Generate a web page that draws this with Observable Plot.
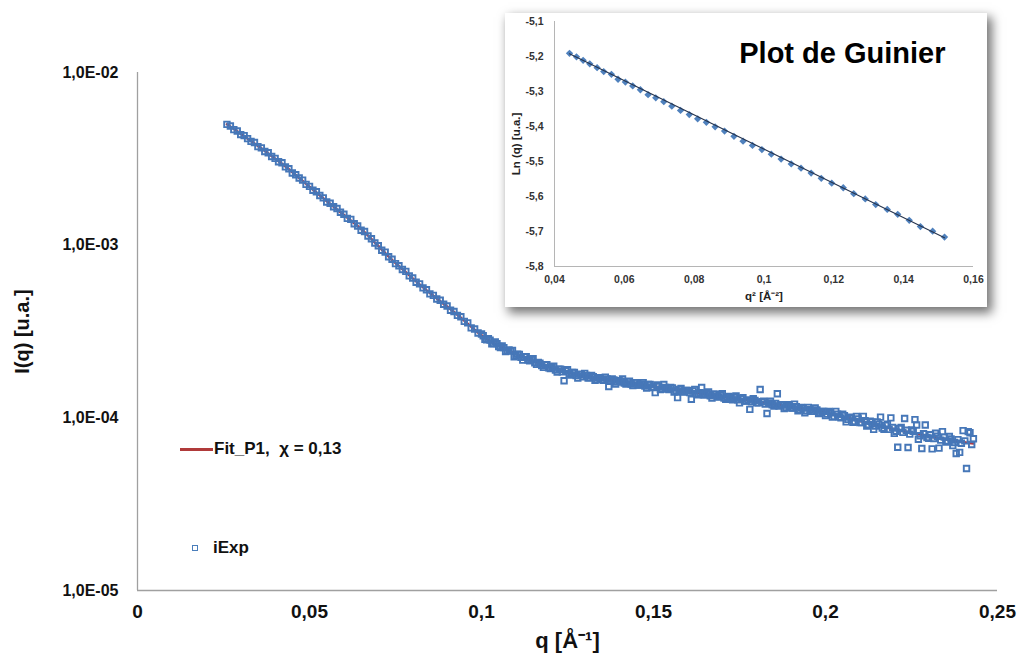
<!DOCTYPE html>
<html><head><meta charset="utf-8">
<script src="https://cdn.jsdelivr.net/npm/d3@7"></script>
<script src="https://cdn.jsdelivr.net/npm/@observablehq/plot@0.6"></script>
<style>
body{margin:0;background:#fff;}
#wrap{position:relative;width:1019px;height:656px;overflow:hidden;font-family:"Liberation Sans",Arial,sans-serif;}
#main{position:absolute;left:0;top:0;}
#inset{position:absolute;left:505px;top:13px;width:482px;height:294px;background:#fff;box-shadow:4px 5px 10px 1px rgba(0,0,0,0.55);}
.leg{position:absolute;font-weight:bold;font-size:17px;color:#111;white-space:pre;line-height:20px;}
.swline{position:absolute;height:3px;background:#b03a3a;}
.swsq{position:absolute;width:4px;height:4px;border:1.3px solid #4a7ebb;}
</style></head><body>
<div id="wrap">
  <div id="main"></div>
  <div id="inset"></div>
  <div class="swline" style="left:180px;top:448px;width:33px;"></div>
  <div class="leg" style="left:214px;top:439px;">Fit_P1,  χ = 0,13</div>
  <div class="swsq" style="left:192px;top:545px;"></div>
  <div class="leg" style="left:213px;top:538px;">iExp</div>
</div>
<script>
// ---- main chart: experimental points (regular grid) ----
const qExpA = [0.026,0.027,0.028,0.029,0.030,0.031,0.032,0.033,0.034,0.035,0.036,0.037,0.038,0.039,0.040,0.041,0.042,0.043,0.044,0.045,0.046,0.047,0.048,0.049,0.050,0.051,0.052,0.053,0.054,0.055,0.056,0.057,0.058,0.059,0.060,0.061,0.062,0.063,0.064,0.065,0.066,0.067,0.068,0.069,0.070,0.071,0.072,0.073,0.074,0.075,0.076,0.077,0.078,0.079,0.080,0.081,0.082,0.083,0.084,0.085,0.086,0.087,0.088,0.089,0.090,0.091,0.092,0.093,0.094,0.095,0.096,0.097,0.098,0.099,0.100,0.101,0.102,0.103,0.104,0.105,0.106,0.107,0.108,0.109,0.110,0.111,0.112,0.113,0.114,0.115,0.116,0.117,0.118,0.119,0.120,0.121,0.122,0.123,0.124,0.125,0.126,0.127,0.128,0.129,0.130,0.131,0.132,0.133,0.134,0.135,0.136,0.137,0.138,0.139,0.140,0.141,0.142,0.143,0.144,0.145,0.146,0.147,0.148,0.149,0.150,0.151,0.152,0.153,0.154,0.155,0.156,0.157,0.158,0.159,0.160,0.161,0.162,0.163,0.164,0.165,0.166,0.167,0.168,0.169,0.170,0.171,0.172,0.173,0.174,0.175,0.176,0.177,0.178,0.179,0.180,0.181,0.182,0.183,0.184,0.185,0.186,0.187,0.188,0.189,0.190,0.191,0.192,0.193,0.194,0.195,0.196,0.197,0.198,0.199,0.200,0.201,0.202,0.203,0.204,0.205,0.206,0.207,0.208,0.209,0.210,0.211,0.212,0.213,0.214,0.215,0.216,0.217,0.218,0.219,0.220,0.221,0.222,0.223,0.224,0.225,0.226,0.227,0.228,0.229,0.230,0.231,0.232,0.233,0.234,0.235,0.236,0.237,0.238,0.239,0.240,0.241,0.242,0.243];
const iExpA = [5.01e-3,4.90e-3,4.67e-3,4.58e-3,4.37e-3,4.31e-3,4.14e-3,3.99e-3,3.93e-3,3.72e-3,3.66e-3,3.49e-3,3.43e-3,3.26e-3,3.18e-3,3.04e-3,3.00e-3,2.84e-3,2.77e-3,2.62e-3,2.56e-3,2.45e-3,2.38e-3,2.25e-3,2.19e-3,2.08e-3,2.04e-3,1.94e-3,1.88e-3,1.78e-3,1.75e-3,1.67e-3,1.63e-3,1.55e-3,1.51e-3,1.43e-3,1.41e-3,1.33e-3,1.29e-3,1.22e-3,1.20e-3,1.13e-3,1.09e-3,1.03e-3,9.93e-4,9.35e-4,9.12e-4,8.57e-4,8.28e-4,7.82e-4,7.60e-4,7.23e-4,7.05e-4,6.64e-4,6.46e-4,6.10e-4,5.97e-4,5.66e-4,5.52e-4,5.22e-4,5.12e-4,4.88e-4,4.80e-4,4.55e-4,4.44e-4,4.20e-4,4.13e-4,3.92e-4,3.85e-4,3.62e-4,3.55e-4,3.32e-4,3.27e-4,3.10e-4,3.06e-4,2.85e-4,2.87e-4,2.68e-4,2.75e-4,2.59e-4,2.61e-4,2.42e-4,2.47e-4,2.46e-4,2.30e-4,2.33e-4,2.16e-4,2.26e-4,2.14e-4,2.20e-4,2.04e-4,2.07e-4,1.96e-4,2.03e-4,1.93e-4,1.99e-4,1.84e-4,1.91e-4,1.64e-4,1.90e-4,1.77e-4,1.83e-4,1.70e-4,1.78e-4,1.81e-4,1.70e-4,1.76e-4,1.65e-4,1.71e-4,1.66e-4,1.72e-4,1.52e-4,1.68e-4,1.57e-4,1.64e-4,1.68e-4,1.57e-4,1.63e-4,1.54e-4,1.60e-4,1.55e-4,1.60e-4,1.49e-4,1.56e-4,1.50e-4,1.55e-4,1.46e-4,1.56e-4,1.47e-4,1.50e-4,1.41e-4,1.31e-4,1.48e-4,1.41e-4,1.44e-4,1.28e-4,1.46e-4,1.36e-4,1.50e-4,1.36e-4,1.41e-4,1.30e-4,1.37e-4,1.32e-4,1.38e-4,1.28e-4,1.33e-4,1.27e-4,1.34e-4,1.22e-4,1.31e-4,1.25e-4,1.12e-4,1.29e-4,1.22e-4,1.46e-4,1.25e-4,1.06e-4,1.25e-4,1.17e-4,1.38e-4,1.19e-4,1.13e-4,1.19e-4,1.14e-4,1.20e-4,1.10e-4,1.15e-4,1.07e-4,1.15e-4,1.09e-4,1.14e-4,1.06e-4,1.09e-4,1.03e-4,1.09e-4,1.01e-4,1.09e-4,1.01e-4,1.05e-4,9.48e-5,1.01e-4,9.42e-5,1.02e-4,9.38e-5,1.02e-4,8.95e-5,9.55e-5,8.57e-5,9.46e-5,1.01e-4,8.59e-5,9.20e-5,1.00e-4,8.13e-5,6.76e-5,8.79e-5,9.91e-5,6.73e-5,8.51e-5,9.77e-5,7.52e-5,6.64e-5,9.08e-5,7.62e-5,6.61e-5,8.15e-5,6.68e-5,8.32e-5,7.24e-5,7.80e-5,6.90e-5,6.21e-5,6.31e-5,8.43e-5,5.09e-5,8.20e-5,7.57e-5];
// ---- main chart: experimental points (in-between grid, q > 0.1) ----
const qExpB = [0.1005,0.1015,0.1025,0.1035,0.1045,0.1055,0.1065,0.1075,0.1085,0.1095,0.1105,0.1115,0.1125,0.1135,0.1145,0.1155,0.1165,0.1175,0.1185,0.1195,0.1205,0.1215,0.1225,0.1235,0.1245,0.1255,0.1265,0.1275,0.1285,0.1295,0.1305,0.1315,0.1325,0.1335,0.1345,0.1355,0.1365,0.1375,0.1385,0.1395,0.1405,0.1415,0.1425,0.1435,0.1445,0.1455,0.1465,0.1475,0.1485,0.1495,0.1505,0.1515,0.1525,0.1535,0.1545,0.1555,0.1565,0.1575,0.1585,0.1595,0.1605,0.1615,0.1625,0.1635,0.1645,0.1655,0.1665,0.1675,0.1685,0.1695,0.1705,0.1715,0.1725,0.1735,0.1745,0.1755,0.1765,0.1775,0.1785,0.1795,0.1805,0.1815,0.1825,0.1835,0.1845,0.1855,0.1865,0.1875,0.1885,0.1895,0.1905,0.1915,0.1925,0.1935,0.1945,0.1955,0.1965,0.1975,0.1985,0.1995,0.2005,0.2015,0.2025,0.2035,0.2045,0.2055,0.2065,0.2075,0.2085,0.2095,0.2105,0.2115,0.2125,0.2135,0.2145,0.2155,0.2165,0.2175,0.2185,0.2195,0.2205,0.2215,0.2225,0.2235,0.2245,0.2255,0.2265,0.2275,0.2285,0.2295,0.2305,0.2315,0.2325,0.2335,0.2345,0.2355,0.2365,0.2375,0.2385,0.2395,0.2405,0.2415,0.2425];
const iExpB = [2.99e-4,2.83e-4,2.82e-4,2.69e-4,2.69e-4,2.55e-4,2.55e-4,2.44e-4,2.45e-4,2.26e-4,2.34e-4,2.24e-4,2.25e-4,2.17e-4,2.18e-4,2.08e-4,2.09e-4,2.01e-4,2.03e-4,1.95e-4,1.97e-4,1.89e-4,1.91e-4,1.85e-4,1.87e-4,1.81e-4,1.83e-4,1.76e-4,1.79e-4,1.73e-4,1.76e-4,1.71e-4,1.73e-4,1.67e-4,1.70e-4,1.65e-4,1.68e-4,1.63e-4,1.66e-4,1.61e-4,1.63e-4,1.59e-4,1.62e-4,1.57e-4,1.60e-4,1.55e-4,1.57e-4,1.53e-4,1.56e-4,1.51e-4,1.40e-4,1.52e-4,1.48e-4,1.50e-4,1.46e-4,1.49e-4,1.44e-4,1.46e-4,1.42e-4,1.44e-4,1.40e-4,1.43e-4,1.38e-4,1.40e-4,1.36e-4,1.38e-4,1.34e-4,1.37e-4,1.33e-4,1.35e-4,1.30e-4,1.32e-4,1.29e-4,1.31e-4,1.27e-4,1.29e-4,1.25e-4,1.27e-4,1.24e-4,1.26e-4,1.22e-4,1.24e-4,1.20e-4,1.22e-4,1.19e-4,1.21e-4,1.17e-4,1.19e-4,1.15e-4,1.17e-4,1.14e-4,1.16e-4,1.12e-4,1.14e-4,1.10e-4,1.12e-4,1.09e-4,1.11e-4,1.07e-4,1.09e-4,1.05e-4,1.07e-4,1.02e-4,1.05e-4,1.00e-4,1.03e-4,9.80e-5,1.00e-4,9.53e-5,9.86e-5,9.38e-5,9.62e-5,9.12e-5,9.44e-5,8.95e-5,9.20e-5,8.73e-5,9.04e-5,8.57e-5,8.79e-5,8.36e-5,8.67e-5,8.24e-5,8.47e-5,8.05e-5,8.36e-5,9.08e-5,7.87e-5,8.09e-5,7.69e-5,7.98e-5,7.59e-5,7.82e-5,7.43e-5,7.73e-5,7.35e-5,7.55e-5,7.19e-5,7.48e-5,7.13e-5,7.35e-5,8.32e-5,7.01e-5];
// ---- main chart: fit Fit_P1 ----
const qFit = [0.026,0.030,0.034,0.038,0.042,0.046,0.050,0.054,0.058,0.062,0.066,0.070,0.074,0.078,0.082,0.086,0.090,0.094,0.098,0.100,0.102,0.105,0.110,0.115,0.120,0.125,0.130,0.135,0.140,0.150,0.160,0.170,0.180,0.190,0.200,0.210,0.220,0.230,0.237,0.243];
const iFit = [5.01e-3,4.42e-3,3.88e-3,3.40e-3,2.96e-3,2.55e-3,2.18e-3,1.87e-3,1.61e-3,1.39e-3,1.19e-3,9.89e-4,8.22e-4,6.97e-4,5.93e-4,5.09e-4,4.41e-4,3.80e-4,3.24e-4,3.01e-4,2.83e-4,2.62e-4,2.34e-4,2.13e-4,1.96e-4,1.84e-4,1.75e-4,1.68e-4,1.63e-4,1.52e-4,1.42e-4,1.33e-4,1.24e-4,1.16e-4,1.07e-4,9.59e-5,8.59e-5,7.83e-5,7.40e-5,7.10e-5];
const xTicks = [0,0.05,0.1,0.15,0.2,0.25];
const xTickLabels = ["0","0,05","0,1","0,15","0,2","0,25"];
const yTicks = [1e-5,1e-4,1e-3,1e-2];
const yTickLabels = ["1,0E-05","1,0E-04","1,0E-03","1,0E-02"];
const xTitle = "q [Å⁻¹]";
const yTitle = "I(q) [u.a.]";
// ---- inset: Guinier plot ----
const q2Guinier = [0.0443,0.0463,0.0482,0.0501,0.0522,0.0541,0.0563,0.0582,0.0603,0.0624,0.0646,0.0668,0.0690,0.0713,0.0736,0.0761,0.0786,0.0810,0.0835,0.0860,0.0887,0.0914,0.0940,0.0967,0.0994,0.1021,0.1049,0.1078,0.1106,0.1135,0.1164,0.1194,0.1227,0.1257,0.1290,0.1320,0.1353,0.1383,0.1416,0.1448,0.1483,0.1517];
const lnGuinier = [-5.191,-5.201,-5.211,-5.221,-5.232,-5.243,-5.251,-5.265,-5.273,-5.284,-5.295,-5.309,-5.318,-5.329,-5.342,-5.354,-5.366,-5.378,-5.388,-5.401,-5.413,-5.428,-5.442,-5.454,-5.466,-5.479,-5.493,-5.507,-5.519,-5.533,-5.548,-5.562,-5.575,-5.592,-5.607,-5.623,-5.637,-5.651,-5.668,-5.686,-5.699,-5.716];
const q2GuinierFit = [0.0443,0.1517];
const lnGuinierFit = [-5.192,-5.718];
const insetXTicks = [0.04,0.06,0.08,0.10,0.12,0.14,0.16];
const insetXTickLabels = ["0,04","0,06","0,08","0,1","0,12","0,14","0,16"];
const insetYTicks = [-5.8,-5.7,-5.6,-5.5,-5.4,-5.3,-5.2,-5.1];
const insetYTickLabels = ["-5,8","-5,7","-5,6","-5,5","-5,4","-5,3","-5,2","-5,1"];
const insetTitle = "Plot de Guinier";
const insetXTitle = "q² [Å⁻²]";
const insetYTitle = "Ln (q) [u.a.]";

const SANS = '"Liberation Sans", Arial, sans-serif';
const NARROW = '"Liberation Sans Narrow", "Arial Narrow", "Liberation Sans", sans-serif';

const expData = qExpA.map((q, i) => ({q, I: iExpA[i]})).concat(qExpB.map((q, i) => ({q, I: iExpB[i]})));
const fitData = qFit.map((q, i) => ({q, I: iFit[i]}));
const fmt = (ticks, labels) => d => labels[ticks.findIndex(t => Math.abs(t - d) < 1e-9)];

const main = Plot.plot({
  width: 1019, height: 656,
  marginLeft: 137, marginRight: 22, marginTop: 72, marginBottom: 66,
  style: {fontFamily: SANS, background: "transparent", color: "#111"},
  x: {domain: [0, 0.25]},
  y: {type: "log", domain: [1e-5, 1e-2]},
  marks: [
    Plot.ruleX([0], {stroke: "#a0a0a0", strokeWidth: 1.3}),
    Plot.ruleY([1e-5], {stroke: "#a0a0a0", strokeWidth: 1.3}),
    Plot.line(fitData, {x: "q", y: "I", stroke: "#a83c4a", strokeWidth: 2.5, curve: "catmull-rom"}),
    Plot.dot(expData, {x: "q", y: "I", symbol: "square", r: 3.1, stroke: "#4677b8", strokeWidth: 1.9, fill: "none"}),
    Plot.axisX({ticks: xTicks, tickFormat: fmt(xTicks, xTickLabels), tickSize: 0, tickPadding: 14, fontSize: 19, fontWeight: "bold", fontFamily: NARROW, label: null}),
    Plot.axisY({ticks: yTicks, tickFormat: fmt(yTicks, yTickLabels), tickSize: 0, tickPadding: 19, fontSize: 16, fontWeight: "bold", label: null}),
    Plot.text([xTitle], {frameAnchor: "bottom", dy: 50, lineAnchor: "middle", fontSize: 22, fontWeight: "bold", fontFamily: NARROW}),
    Plot.text([yTitle], {frameAnchor: "left", dx: -115, rotate: -90, textAnchor: "middle", lineAnchor: "middle", fontSize: 20, fontWeight: "bold"})
  ]
});
document.getElementById("main").appendChild(main);

const gData = q2Guinier.map((x, i) => ({x, y: lnGuinier[i]}));
const gFit = q2GuinierFit.map((x, i) => ({x, y: lnGuinierFit[i]}));

const inset = Plot.plot({
  width: 482, height: 294,
  marginLeft: 49, marginRight: 14, marginTop: 8, marginBottom: 41,
  style: {fontFamily: SANS, background: "#fff", color: "#333"},
  x: {domain: [0.04, 0.16]},
  y: {domain: [-5.8, -5.1]},
  marks: [
    Plot.ruleX([0.04], {stroke: "#b5b5b5"}),
    Plot.ruleY([-5.8], {stroke: "#b5b5b5"}),
    Plot.dot(gData, {x: "x", y: "y", symbol: "diamond2", r: 3.3, fill: "#4f81bd", stroke: "none"}),
    Plot.line(gFit, {x: "x", y: "y", stroke: "#27344d", strokeWidth: 1.1}),
    Plot.axisX({ticks: insetXTicks, tickFormat: fmt(insetXTicks, insetXTickLabels), tickSize: 0, tickPadding: 9, fontSize: 10.5, fontWeight: "bold", label: null}),
    Plot.axisY({ticks: insetYTicks, tickFormat: fmt(insetYTicks, insetYTickLabels), tickSize: 0, tickPadding: 11, fontSize: 10.5, fontWeight: "bold", label: null}),
    Plot.text([insetTitle], {frameAnchor: "top-right", dx: -28, dy: 32, lineAnchor: "middle", textAnchor: "end", fontSize: 29, fontWeight: "bold", fill: "#000"}),
    Plot.text([insetXTitle], {frameAnchor: "bottom", dy: 30, lineAnchor: "middle", fontSize: 11.5, fontWeight: "bold", fill: "#222"}),
    Plot.text([insetYTitle], {frameAnchor: "left", dx: -38, rotate: -90, textAnchor: "middle", lineAnchor: "middle", fontSize: 11.5, fontWeight: "bold", fill: "#222"})
  ]
});
document.getElementById("inset").appendChild(inset);
</script>
</body></html>
